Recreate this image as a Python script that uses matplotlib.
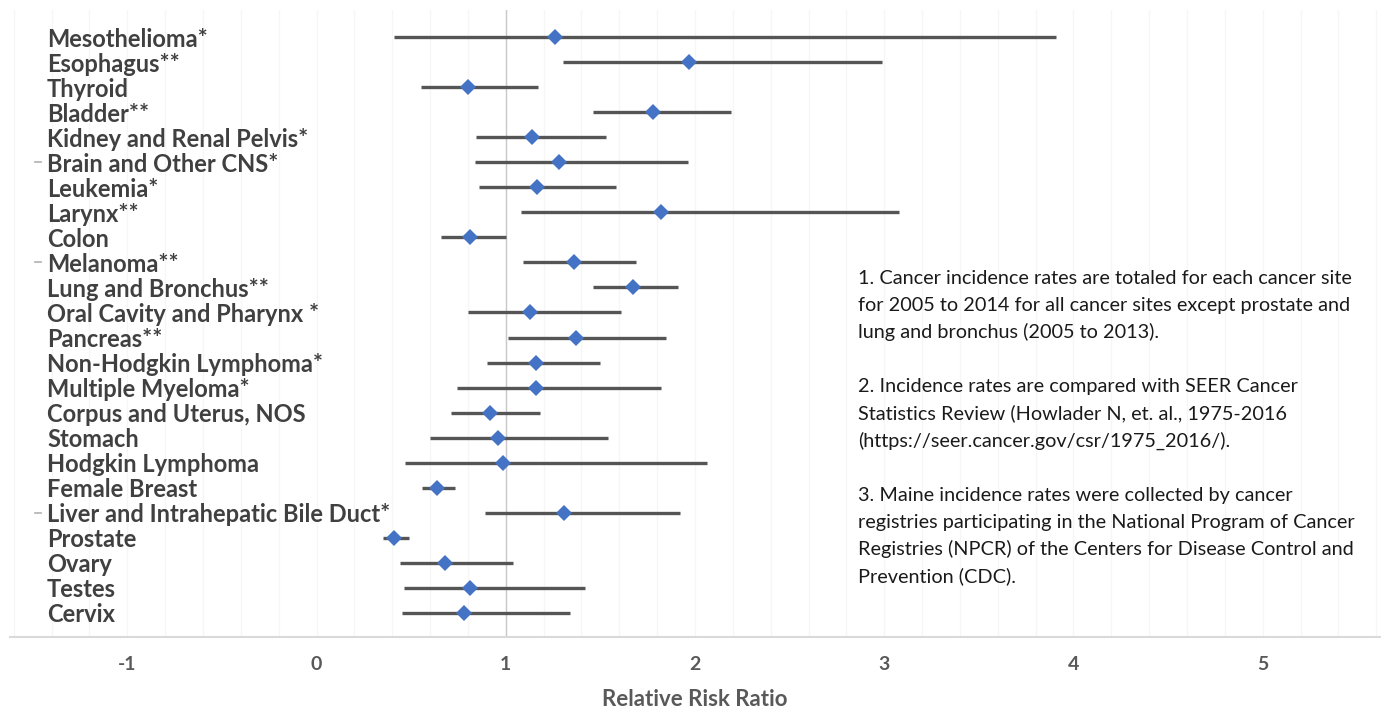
import matplotlib
matplotlib.use("Agg")
import matplotlib.pyplot as plt
import matplotlib.transforms as mtransforms
import numpy as np

# data (relative risk, lower / upper CI)
sites = [
    "Mesothelioma*", "Esophagus**", "Thyroid", "Bladder**",
    "Kidney and Renal Pelvis*", "Brain and Other CNS*", "Leukemia*", "Larynx**",
    "Colon", "Melanoma**", "Lung and Bronchus**", "Oral Cavity and Pharynx *",
    "Pancreas**", "Non-Hodgkin Lymphoma*", "Multiple Myeloma*",
    "Corpus and Uterus, NOS", "Stomach", "Hodgkin Lymphoma", "Female Breast",
    "Liver and Intrahepatic Bile Duct*", "Prostate", "Ovary", "Testes", "Cervix",
]
rr = [1.26, 1.97, 0.80, 1.78, 1.14, 1.28, 1.165, 1.82, 0.81, 1.36, 1.67, 1.13,
      1.37, 1.16, 1.16, 0.915, 0.96, 0.985, 0.634, 1.31, 0.41, 0.68, 0.81, 0.78]
lower = [0.41, 1.30, 0.55, 1.46, 0.845, 0.836, 0.86, 1.08, 0.657, 1.09, 1.46, 0.80,
         1.01, 0.90, 0.74, 0.71, 0.60, 0.47, 0.555, 0.89, 0.35, 0.44, 0.46, 0.45]
upper = [3.91, 2.99, 1.17, 2.19, 1.53, 1.965, 1.58, 3.08, 1.00, 1.69, 1.91, 1.61,
         1.845, 1.50, 1.82, 1.18, 1.54, 2.065, 0.73, 1.92, 0.49, 1.04, 1.42, 1.34]
xticks = [-1, 0, 1, 2, 3, 4, 5]

notes = [
    "1. Cancer incidence rates are totaled for each cancer site",
    "for 2005 to 2014 for all cancer sites except prostate and",
    "lung and bronchus (2005 to 2013).",
    "",
    "2. Incidence rates are compared with SEER Cancer",
    "Statistics Review (Howlader N, et. al., 1975-2016",
    "(https://seer.cancer.gov/csr/1975_2016/).",
    "",
    "3. Maine incidence rates were collected by cancer",
    "registries participating in the National Program of Cancer",
    "Registries (NPCR) of the Centers for Disease Control and",
    "Prevention (CDC).",
]

plt.rcParams.update({"font.family": ["Lato", "DejaVu Sans"]})

W, H = 1395, 709
fig = plt.figure(figsize=(W / 100, H / 100), dpi=100)
ax = fig.add_axes([10 / W, 1 - 637 / H, 1370 / W, 627 / H])

y = np.arange(len(sites))
rr_a = np.array(rr)
err = [rr_a - np.array(lower), np.array(upper) - rr_a]

# faint vertical gridlines, darker reference line at 1
for gx in np.arange(-1.6, 5.61, 0.2):
    ax.axvline(gx, color="#f6f6f6", lw=0.9, zorder=0)
ax.axvline(1, color="#c9c9c9", lw=1.0, zorder=1)

ax.errorbar(rr, y, xerr=err, fmt="D", color="#4472c4", ms=8.5, mew=0,
            ecolor="#555555", elinewidth=2.4, capsize=4, capthick=2.4, zorder=3)

ax.set_xlim(-1.62, 5.62)
ax.set_ylim(len(sites) - 1 + 0.96, -1.08)
ax.set_xticks(xticks)
ax.set_xticklabels([str(t) for t in xticks], fontsize=14, fontweight="bold",
                   color="#595959")
ax.tick_params(axis="x", length=0, pad=14)
ax.set_yticks([])
ax.set_xlabel("Relative Risk Ratio", fontsize=16, fontweight="bold",
              color="#595959", labelpad=11)
for s in ["left", "right", "top"]:
    ax.spines[s].set_visible(False)
ax.spines["bottom"].set_color("#d9d9d9")
ax.spines["bottom"].set_linewidth(1.5)

trans = mtransforms.blended_transform_factory(ax.transAxes, ax.transData)
for i, name in enumerate(sites):
    ax.text(0.027, i, name, transform=trans, ha="left", va="center_baseline",
            fontsize=17, fontweight="bold", color="#404040")
# small stray tick marks seen on the left
for i in [5, 9, 19]:
    ax.plot([0.0185, 0.0225], [i, i], transform=trans, color="#b0b0b0", lw=1.2)

baseline = 284
for k, line in enumerate(notes):
    if line:
        fig.text(858 / W, 1 - (baseline + 27.1 * k) / H, line, ha="left",
                 va="baseline", fontsize=14.3, color="#1a1a1a")

fig.savefig("out.png", dpi=100)
